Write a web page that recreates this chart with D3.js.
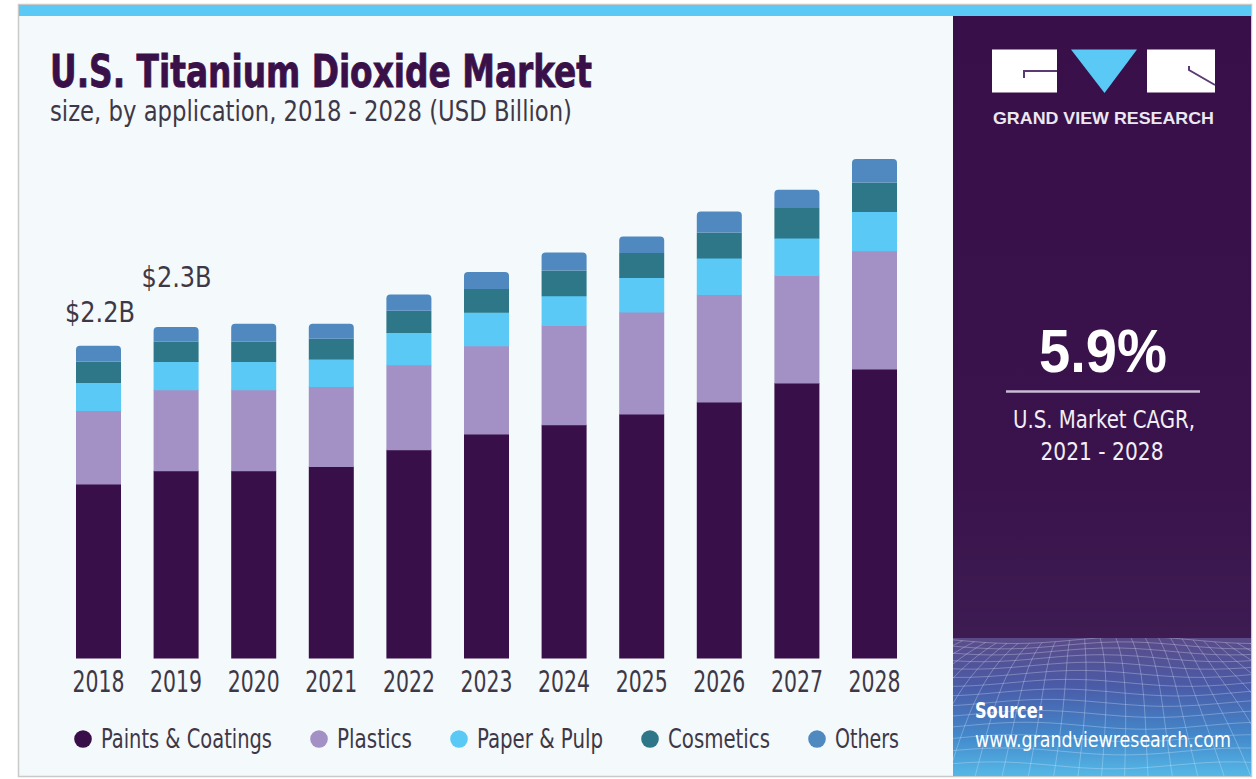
<!DOCTYPE html>
<html>
<head>
<meta charset="utf-8">
<title>U.S. Titanium Dioxide Market</title>
<script src="https://cdn.jsdelivr.net/npm/d3@7/dist/d3.min.js"></script>
<style>
  html, body { margin: 0; padding: 0; background: #ffffff; }
  svg { display: block; }
</style>
</head>
<body>
<svg id="chart" width="1256" height="779"></svg>
<script>
// Market size by application, USD billion
const years = ["2018", "2019", "2020", "2021", "2022", "2023", "2024", "2025", "2026", "2027", "2028"];
const seriesNames = ["Paints & Coatings", "Plastics", "Paper & Pulp", "Cosmetics", "Others"];
const paints    = [1.225, 1.319, 1.319, 1.349, 1.467, 1.577, 1.643, 1.718, 1.803, 1.937, 2.035];
const plastics  = [0.518, 0.570, 0.570, 0.563, 0.599, 0.622, 0.699, 0.718, 0.756, 0.758, 0.833];
const paper     = [0.197, 0.199, 0.199, 0.193, 0.227, 0.235, 0.209, 0.244, 0.258, 0.263, 0.277];
const cosmetics = [0.148, 0.139, 0.139, 0.143, 0.153, 0.165, 0.178, 0.172, 0.180, 0.211, 0.204];
const others    = [0.111, 0.104, 0.127, 0.106, 0.113, 0.120, 0.127, 0.117, 0.148, 0.129, 0.165];
const labelledYears = ["2018", "2019"];
const cagrValue = "5.9%";
const cagrLabel = ["U.S. Market CAGR,", "2021 - 2028"];

const seriesValues = [paints, plastics, paper, cosmetics, others];
const seriesColors = ["#380f48", "#a390c4", "#5bc9f5", "#2e7788", "#4f89c0"];

const rows = years.map((yr, i) => {
  const r = { year: yr };
  seriesNames.forEach((s, k) => { r[s] = seriesValues[k][i]; });
  return r;
});

const svg = d3.select("#chart");
const NARROW = "'Liberation Sans Narrow', 'DejaVu Sans Condensed', 'Liberation Sans', sans-serif";
const TEXT = "#3e3846";
const PURPLE = "#3a1049";

// ---------- frame ----------
svg.append("rect").attr("x", 18.5).attr("y", 4.5).attr("width", 1233).attr("height", 772)
  .attr("fill", "#f4f9fc").attr("stroke", "#c9c9c9").attr("stroke-width", 1.5);
svg.append("rect").attr("x", 19).attr("y", 5).attr("width", 1232).attr("height", 11).attr("fill", "#5bc9f5");

// ---------- right panel ----------
const defs = svg.append("defs");
const pg = defs.append("linearGradient").attr("id", "panelGrad").attr("x1", 0).attr("y1", 0).attr("x2", 0).attr("y2", 1);
pg.append("stop").attr("offset", 0).attr("stop-color", "#390f49");
pg.append("stop").attr("offset", 0.75).attr("stop-color", "#3a134c");
pg.append("stop").attr("offset", 1).attr("stop-color", "#3d1c52");
const bg = defs.append("linearGradient").attr("id", "meshGrad").attr("x1", 0).attr("y1", 0).attr("x2", 0).attr("y2", 1);
bg.append("stop").attr("offset", 0).attr("stop-color", "#5b4b88");
bg.append("stop").attr("offset", 0.35).attr("stop-color", "#4a5ba7");
bg.append("stop").attr("offset", 0.7).attr("stop-color", "#4387ca");
bg.append("stop").attr("offset", 1).attr("stop-color", "#55b8e6");
defs.append("clipPath").attr("id", "meshClip")
  .append("rect").attr("x", 953).attr("y", 638).attr("width", 298).attr("height", 138);

svg.append("rect").attr("x", 953).attr("y", 16).attr("width", 298).attr("height", 622).attr("fill", "url(#panelGrad)");
svg.append("rect").attr("x", 953).attr("y", 638).attr("width", 298).attr("height", 138).attr("fill", "url(#meshGrad)");

// wavy perspective grid in the lower panel
const mesh = svg.append("g").attr("clip-path", "url(#meshClip)")
  .attr("fill", "none").attr("stroke", "#e6efff").attr("stroke-opacity", 0.3).attr("stroke-width", 1);
const meshRows = d3.range(0, 15);
const meshCols = d3.range(-16, 17);
const meshPt = (i, j) => {
  const s = j / 14;
  const x = 1100 + i * (13 + 13 * s) + 6 * Math.sin(s * 3 + i * 0.4);
  const y = 640 + 140 * (0.5 * s + 0.5 * s * s) + 3.5 * Math.sin(x / 38 + s * 4);
  return [x, y];
};
const meshLine = d3.line().curve(d3.curveCatmullRom);
meshRows.forEach(j => mesh.append("path").attr("d", meshLine(meshCols.map(i => meshPt(i, j)))));
meshCols.forEach(i => mesh.append("path").attr("d", meshLine(meshRows.map(j => meshPt(i, j)))));

// logo
const logo = svg.append("g");
logo.append("rect").attr("x", 992).attr("y", 49.5).attr("width", 65).attr("height", 43).attr("fill", "#ffffff");
logo.append("polyline").attr("points", "1057,71 1024,71 1024,78")
  .attr("fill", "none").attr("stroke", "#5b3a73").attr("stroke-width", 2);
logo.append("polygon").attr("points", "1071,49.5 1137,49.5 1104.5,93").attr("fill", "#5bc9f5");
logo.append("rect").attr("x", 1147).attr("y", 49.5).attr("width", 68).attr("height", 43).attr("fill", "#ffffff");
logo.append("polyline").attr("points", "1189,66 1189,70 1215,85")
  .attr("fill", "none").attr("stroke", "#5b3a73").attr("stroke-width", 2);
logo.append("text").attr("x", 993).attr("y", 124)
  .attr("font-family", "'Liberation Sans', 'DejaVu Sans', sans-serif").attr("font-weight", "bold")
  .attr("font-size", 16.5).attr("fill", "#ece8f2")
  .attr("textLength", 221).attr("lengthAdjust", "spacingAndGlyphs")
  .text("GRAND VIEW RESEARCH");

// CAGR block
svg.append("text").attr("x", 1103).attr("y", 372).attr("text-anchor", "middle")
  .attr("font-family", "'Liberation Sans', sans-serif").attr("font-weight", "bold")
  .attr("font-size", 62).attr("fill", "#ffffff")
  .attr("textLength", 128).attr("lengthAdjust", "spacingAndGlyphs")
  .text(cagrValue);
svg.append("line").attr("x1", 1006).attr("x2", 1200).attr("y1", 391.5).attr("y2", 391.5)
  .attr("stroke", "#c9bdd4").attr("stroke-width", 2.5);
svg.append("text").attr("x", 1104).attr("y", 428).attr("text-anchor", "middle")
  .attr("font-family", NARROW).attr("font-size", 25.5).attr("fill", "#f2eef6")
  .attr("textLength", 182).attr("lengthAdjust", "spacingAndGlyphs")
  .text(cagrLabel[0]);
svg.append("text").attr("x", 1102).attr("y", 460).attr("text-anchor", "middle")
  .attr("font-family", NARROW).attr("font-size", 25.5).attr("fill", "#f2eef6")
  .attr("textLength", 123).attr("lengthAdjust", "spacingAndGlyphs")
  .text(cagrLabel[1]);

// source
svg.append("text").attr("x", 975).attr("y", 718).attr("font-family", NARROW).attr("font-weight", "bold")
  .attr("font-size", 21).attr("fill", "#ffffff")
  .attr("textLength", 69).attr("lengthAdjust", "spacingAndGlyphs").text("Source:");
svg.append("text").attr("x", 975).attr("y", 747).attr("font-family", NARROW)
  .attr("font-size", 20.5).attr("fill", "#ffffff")
  .attr("textLength", 256).attr("lengthAdjust", "spacingAndGlyphs").text("www.grandviewresearch.com");

// ---------- title ----------
svg.append("text").attr("x", 50).attr("y", 87)
  .attr("font-family", NARROW).attr("font-weight", "bold")
  .attr("font-size", 44).attr("fill", PURPLE)
  .attr("stroke", PURPLE).attr("stroke-width", 0.8)
  .attr("textLength", 542).attr("lengthAdjust", "spacingAndGlyphs")
  .text("U.S. Titanium Dioxide Market");
svg.append("text").attr("x", 50).attr("y", 121)
  .attr("font-family", NARROW).attr("font-size", 27.5).attr("fill", TEXT)
  .attr("textLength", 522).attr("lengthAdjust", "spacingAndGlyphs")
  .text("size, by application, 2018 - 2028 (USD Billion)");

// ---------- stacked bars ----------
const x = d3.scaleBand().domain(years).range([59.7, 913.3]).paddingInner(0.42).paddingOuter(0.21);
const y = d3.scaleLinear().domain([0, 3.5]).range([658, 161]);
const stack = d3.stack().keys(seriesNames)(rows);

const topRounded = (x0, y0, w, h, r) => {
  const p = d3.path();
  p.moveTo(x0, y0 + h);
  p.lineTo(x0, y0 + r);
  p.arcTo(x0, y0, x0 + r, y0, r);
  p.lineTo(x0 + w - r, y0);
  p.arcTo(x0 + w, y0, x0 + w, y0 + r, r);
  p.lineTo(x0 + w, y0 + h);
  p.closePath();
  return p.toString();
};

const layers = svg.append("g").selectAll("g").data(stack).join("g")
  .attr("fill", (d, i) => seriesColors[i]);
layers.each(function (layer, li) {
  const g = d3.select(this);
  const isTop = li === stack.length - 1;
  g.selectAll("path").data(layer).join("path")
    .attr("d", d => {
      const x0 = x(d.data.year), w = x.bandwidth();
      const y0 = y(d[1]), h = y(d[0]) - y(d[1]);
      return isTop ? topRounded(x0, y0, w, h, 4) : topRounded(x0, y0, w, h + 0.5, 0);
    });
});

// value labels above the first two bars
const labelLift = { "2018": 24, "2019": 40 };
const labelShift = { "2018": 1.5, "2019": 0.5 };
labelledYears.forEach(yr => {
  const r = rows.find(d => d.year === yr);
  const total = seriesNames.reduce((s, k) => s + r[k], 0);
  svg.append("text")
    .attr("x", x(yr) + x.bandwidth() / 2 + labelShift[yr])
    .attr("y", y(total) - labelLift[yr])
    .attr("text-anchor", "middle")
    .attr("font-family", NARROW).attr("font-size", 29).attr("fill", TEXT)
    .attr("textLength", 70).attr("lengthAdjust", "spacingAndGlyphs")
    .text("$" + total.toFixed(1) + "B");
});

// year axis
const axis = svg.append("g").attr("transform", "translate(0,658)")
  .call(d3.axisBottom(x).tickSize(0).tickPadding(12.7));
axis.select(".domain").remove();
axis.selectAll("text")
  .attr("font-family", NARROW).attr("font-size", 30).attr("fill", TEXT)
  .attr("textLength", 52).attr("lengthAdjust", "spacingAndGlyphs");

// ---------- legend ----------
const legendWidths = [171, 75, 126, 102, 64];
const legend = svg.append("g");
let lx = 83;
seriesNames.forEach((name, i) => {
  legend.append("circle").attr("cx", lx).attr("cy", 739).attr("r", 8.8).attr("fill", seriesColors[i]);
  legend.append("text").attr("x", lx + 18).attr("y", 748)
    .attr("font-family", NARROW).attr("font-size", 26).attr("fill", TEXT)
    .attr("textLength", legendWidths[i]).attr("lengthAdjust", "spacingAndGlyphs")
    .text(name);
  lx += 18 + legendWidths[i] + 47;
});
</script>
</body>
</html>
